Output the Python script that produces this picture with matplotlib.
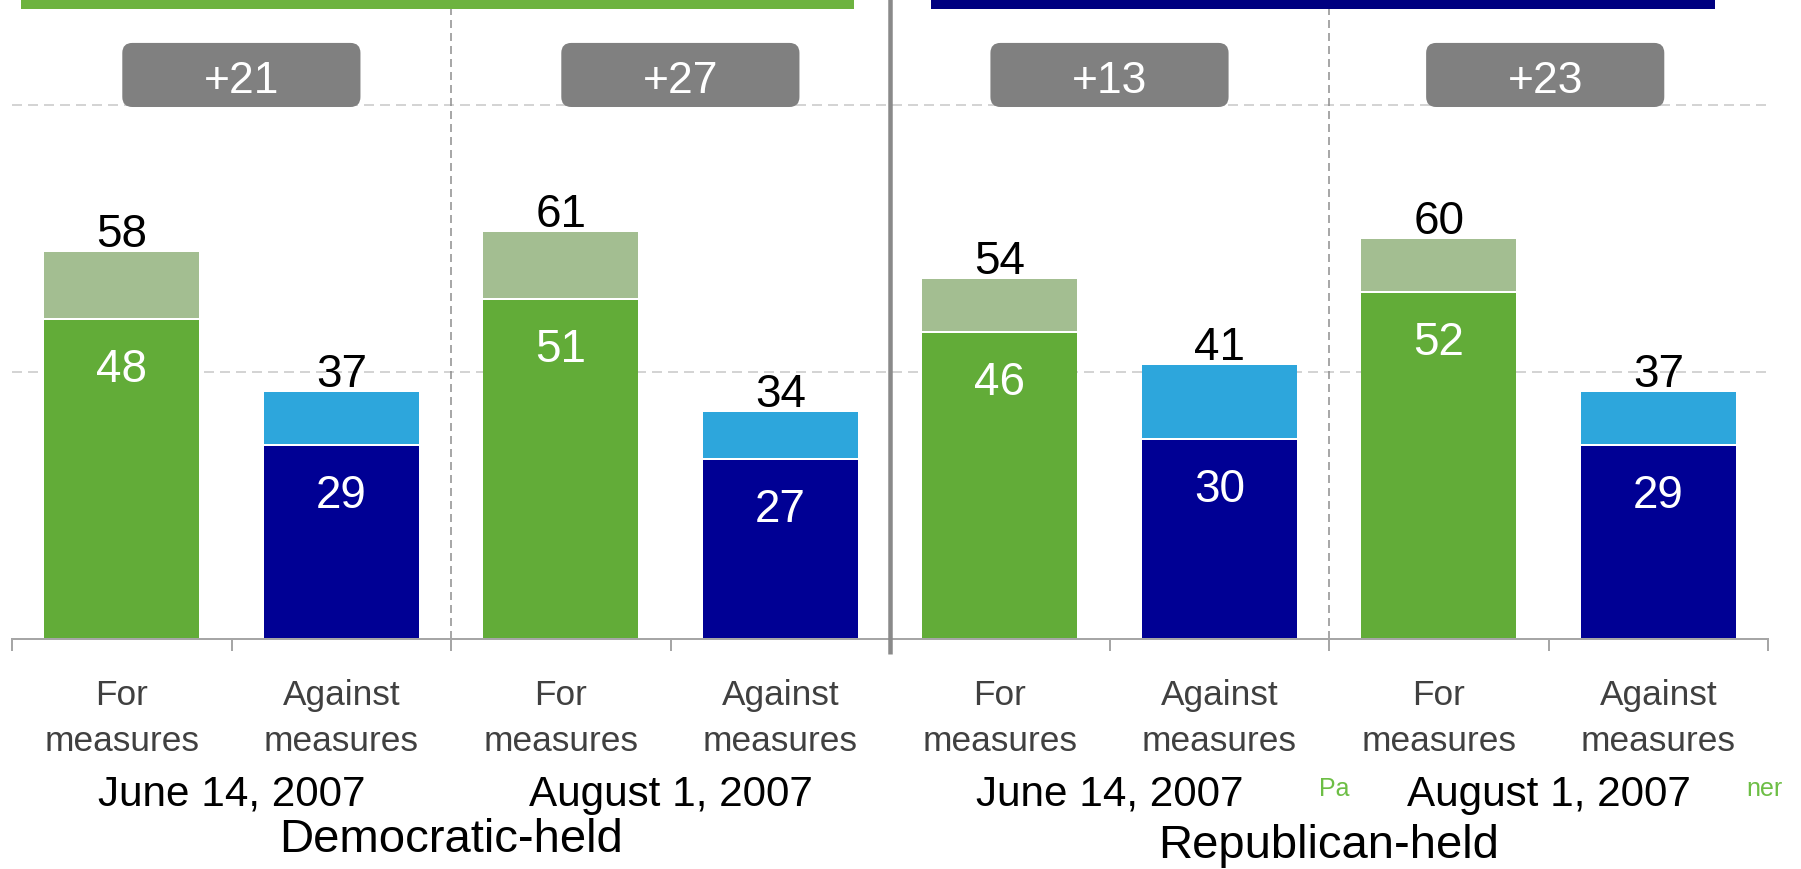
import matplotlib
matplotlib.use("Agg")
import matplotlib.pyplot as plt
import matplotlib.transforms as mtransforms
from matplotlib.patches import FancyBboxPatch, Rectangle

plt.rcParams['font.family'] = ['Liberation Sans', 'DejaVu Sans']
plt.rcParams['lines.scale_dashes'] = False

# ---------------- data ----------------
categories = ["For\nmeasures", "Against\nmeasures"] * 4
sides = ["for", "against"] * 4
strong = [48, 29, 51, 27, 46, 30, 52, 29]
total = [58, 37, 61, 34, 54, 41, 60, 37]
dates = ["June 14, 2007", "August 1, 2007", "June 14, 2007", "August 1, 2007"]
groups = ["Democratic-held", "Republican-held"]
margins = ["+21", "+27", "+13", "+23"]
gridlines = [40, 80]

# ---------------- styling ----------------
W, H = 1801, 870
PX = 0.72  # points per pixel at dpi 100
col_strong = {"for": "#62AC38", "against": "#000094"}
col_soft = {"for": "#A3BE91", "against": "#2DA6DC"}

fig = plt.figure(figsize=(W / 100, H / 100), dpi=100)
ax = fig.add_axes([12 / W, (H - 640) / H, 1756 / W, 640 / H])
ppu = 6.675  # pixels per value unit
ax.set_xlim(-0.5, len(categories) - 0.5)
ax.set_ylim(0, 640 / ppu)

x = list(range(len(categories)))
bw = 0.708

# gridlines
for g in gridlines:
    ax.axhline(g, color="#D4D4D4", lw=2 * PX, dashes=(10 * PX, 6 * PX), zorder=0)

# vertical dashed dividers between dates
for xv in [1.5, 5.5]:
    ax.plot([xv, xv], [0, 640 / ppu], color="#8C8C8C", lw=1.5 * PX,
            dashes=(8 * PX, 5 * PX), zorder=0.5)

# bars
for i in x:
    s, t, sd = strong[i], total[i], sides[i]
    ax.bar(i, s, width=bw, color=col_strong[sd], lw=0, zorder=2)
    ax.bar(i, t - s, bottom=s, width=bw, color=col_soft[sd], lw=0, zorder=2)
    ax.hlines(s, i - bw / 2, i + bw / 2, color="white", lw=2 * PX, zorder=3)
    ax.annotate(str(t), (i, t), xytext=(0, 6 * PX), textcoords="offset points",
                ha="center", va="baseline", fontsize=33, color="black")
    ax.annotate(str(s), (i, s), xytext=(0, -62 * PX), textcoords="offset points",
                ha="center", va="baseline", fontsize=33, color="white", zorder=4)

# solid separator between parties
ax.plot([3.5, 3.5], [-15 / ppu, 640 / ppu], color="#8A8A8A", lw=4.5 * PX,
        clip_on=False, zorder=5, solid_capstyle="butt")

# axis
for sp in ["top", "left", "right"]:
    ax.spines[sp].set_visible(False)
ax.spines["bottom"].set_color("#A6A6A6")
ax.spines["bottom"].set_linewidth(2 * PX)
ax.set_yticks([])
ax.set_xticks([])
ax.set_xticks([i - 0.5 for i in range(len(categories) + 1)], minor=True)
ax.tick_params(axis="x", which="minor", length=12 * PX, width=2 * PX,
               color="#A6A6A6", labelbottom=False)

# margin boxes
box_off = [0.045, 0.045, 0.0, -0.015]
bw_box, y0_box, h_box = 1.085, 79.7, 9.6
for k, m in enumerate(margins):
    cx = 2 * k + 0.5 + box_off[k]
    p = FancyBboxPatch((cx - bw_box / 2, y0_box), bw_box, h_box,
                       boxstyle="round,pad=0,rounding_size=0.0456",
                       mutation_aspect=32.9, fc="#808080", ec="none", zorder=3)
    ax.add_patch(p)
    ax.text(cx, (640 - 93) / ppu, m, ha="center", va="baseline",
            fontsize=32, color="white", zorder=4)

# labels below axis
trans = mtransforms.blended_transform_factory(ax.transData, fig.transFigure)
for i, c in enumerate(categories):
    for line, py in zip(c.split("\n"), [705, 751]):
        ax.text(i, 1 - py / H, line, transform=trans, ha="center", va="baseline",
                fontsize=25.4, color="#404040")
for k, d in enumerate(dates):
    ax.text(2 * k + 0.5, 1 - 806 / H, d, transform=trans, ha="center",
            va="baseline", fontsize=30.4, color="black")
for k, (g, py) in enumerate(zip(groups, [852, 858])):
    ax.text(4 * k + 1.5, 1 - py / H, g, transform=trans, ha="center",
            va="baseline", fontsize=34, color="black")

# header bands (cut off at top)
fig.add_artist(Rectangle((21 / W, 1 - 10 / H), (854 - 21) / W, 10 / H,
                         transform=fig.transFigure, fc="#6DB33F", ec="none"))
fig.add_artist(Rectangle((931 / W, 1 - 10 / H), (1715 - 931) / W, 10 / H,
                         transform=fig.transFigure, fc="#000080", ec="none"))

# stray source text fragments
fig.text(1319 / W, 1 - 796 / H, "Pa", fontsize=18, color="#6DBE45", va="baseline")
fig.text(1746 / W, 1 - 796 / H, "ner", fontsize=18, color="#6DBE45", va="baseline")

fig.savefig("out.png", dpi=100)
